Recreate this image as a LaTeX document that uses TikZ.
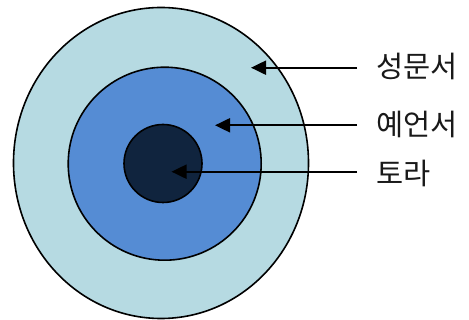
\documentclass[tikz,border=0pt]{standalone}
\usepackage{fontspec}
\newfontfamily\kr{Noto Sans CJK KR}
\usetikzlibrary{shapes.geometric,arrows.meta}
\definecolor{outerc}{RGB}{182,218,226}
\definecolor{midc}{RGB}{85,140,212}
\definecolor{innerc}{RGB}{16,36,62}
\tikzset{
  ring/.style={draw=black, line width=1.6pt, inner sep=0pt},
  lab/.style={anchor=west, inner xsep=19pt, inner ysep=0pt, font=\kr\fontsize{29.5}{32}\selectfont, text=black!90},
  pointer/.style={line width=2pt, -{Triangle[length=15pt,width=14pt]}}
}
\begin{document}
\begin{tikzpicture}[x=1pt,y=-1pt]
\useasboundingbox (0,0) rectangle (469,320);
\node[ring, ellipse, fill=outerc, minimum width=295pt, minimum height=311pt] (outer) at (161,163) {};
\node[ring, circle, fill=midc, minimum size=193pt] (middle) at (164.7,163.7) {};
\node[ring, circle, fill=innerc, minimum size=78pt] (inner) at (163,163.5) {};
\coordinate (t1) at (251,67.7);
\coordinate (t2) at (215,125.3);
\coordinate (t3) at (171.5,171.7);
\node[lab] (l1) at (357,66.5) {성문서};
\node[lab] (l2) at (357,124) {예언서};
\node[lab] (l3) at (357,173) {토라};
\draw[pointer] (l1.west |- t1) -- (t1);
\draw[pointer] (l2.west |- t2) -- (t2);
\draw[pointer] (l3.west |- t3) -- (t3);
\end{tikzpicture}
\end{document}
